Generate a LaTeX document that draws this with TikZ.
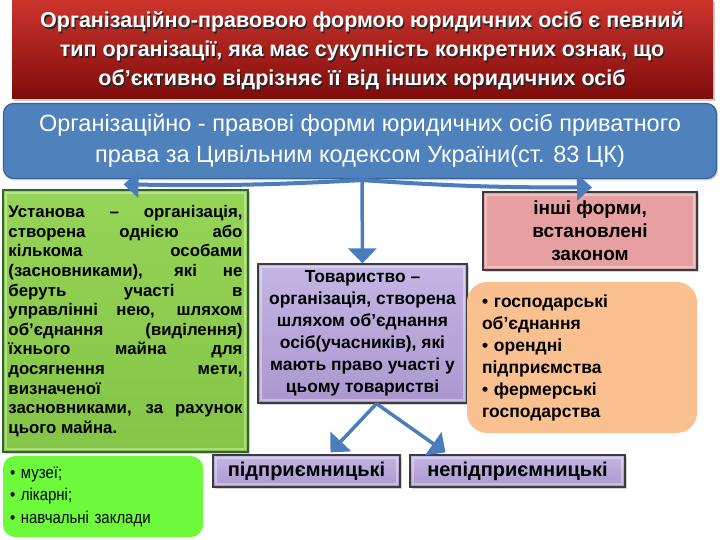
\documentclass[tikz,border=0pt]{standalone}
\usepackage{fontspec}
\setmainfont{Liberation Sans}
\newfontfamily\narrowfont[FakeStretch=0.88]{Liberation Sans}
\usetikzlibrary{arrows.meta,shadows}
\definecolor{redtop}{RGB}{204,52,44}
\definecolor{redbot}{RGB}{128,12,12}
\definecolor{bluefill}{RGB}{79,129,189}
\definecolor{blueedge}{RGB}{56,98,150}
\definecolor{greentop}{RGB}{150,212,88}
\definecolor{greenbot}{RGB}{132,196,70}
\definecolor{purptop}{RGB}{196,182,228}
\definecolor{purpbot}{RGB}{170,152,206}
\definecolor{pinkfill}{RGB}{230,160,162}
\definecolor{orangefill}{RGB}{250,192,144}
\definecolor{limefill}{RGB}{108,250,58}
\definecolor{arrowblue}{RGB}{74,124,190}
\definecolor{edgegray}{RGB}{60,60,60}
\begin{document}
\begin{tikzpicture}[x=1pt,y=-1pt,
  bevel/.style={path picture={\draw[white,opacity=.35,line width=2pt]
     ([shift={(3pt,-3pt)}]path picture bounding box.north west) rectangle
     ([shift={(-3pt,3pt)}]path picture bounding box.south east);}},
  sq/.style={draw=edgegray,line width=1.3pt,inner sep=0pt,bevel,
     drop shadow={shadow xshift=1.5pt,shadow yshift=-1.5pt,opacity=.35}},
  purpbox/.style={sq,top color=purptop,bottom color=purpbot},
  bigarrow/.style={draw=arrowblue,line width=4pt,-{Triangle[length=15pt,width=26pt]}},
  midarrow/.style={draw=arrowblue,line width=3.5pt,-{Triangle[length=15pt,width=28pt]}},
  titletext/.style={align=center,font=\bfseries\fontsize{21.5}{29}\selectfont,inner sep=0pt}
]
\useasboundingbox (0,0) rectangle (720,540);

% title box
\node[draw=none,top color=redtop,bottom color=redbot,minimum width=701pt,minimum height=99pt,
      drop shadow={shadow xshift=1.5pt,shadow yshift=-2pt,opacity=.4}] (red) at (362.5,49.5) {};
\node[titletext,text=black!85] (titlesh) at (363.3,52.3)
 {Організаційно-правовою формою юридичних осіб є певний\\тип організації, яка має сукупність конкретних ознак, що\\об'єктивно відрізняє її від інших юридичних осіб};
\node[titletext,text=white] (title) at (362,51)
 {Організаційно-правовою формою юридичних осіб є певний\\тип організації, яка має сукупність конкретних ознак, що\\об'єктивно відрізняє її від інших юридичних осіб};

% blue box
\node[draw=blueedge,line width=1.2pt,fill=bluefill,rounded corners=10pt,minimum width=713pt,
      minimum height=75pt,inner sep=0pt,text=white,align=center,
      font=\fontsize{23.5}{31}\selectfont,
      drop shadow={shadow xshift=1.5pt,shadow yshift=-2pt,opacity=.35}] (blue) at (360,141)
 {Організаційно - правові форми юридичних осіб приватного\\права за Цивільним кодексом України(ст. 83 ЦК)};

% Установа
\node[sq,draw=edgegray!80!green,top color=greentop,bottom color=greenbot,
      minimum width=245pt,minimum height=262pt,text width=234pt,align=justify,
      font=\bfseries\fontsize{16.8}{19.6}\selectfont] (ust) at (125.5,321)
 {Установа – організація,\linebreak створена однією або\linebreak кількома особами\linebreak (засновниками), які не\linebreak беруть участі в\linebreak управлінні нею, шляхом\linebreak об'єднання (виділення)\linebreak їхнього майна для\linebreak досягнення мети,\linebreak визначеної\newline засновниками, за рахунок\linebreak цього майна.};

% Товариство
\node[purpbox,minimum width=209pt,minimum height=139pt,align=center,
      font=\bfseries\fontsize{17.4}{22}\selectfont] (tov) at (362.5,333.5)
 {Товариство –\\організація, створена\\шляхом об'єднання\\осіб(учасників), які\\мають право участі у\\цьому товаристві};

% інші форми
\node[sq,fill=pinkfill,minimum width=214pt,minimum height=78pt,align=center,
      font=\bfseries\fontsize{19}{23}\selectfont] (inshi) at (590,231)
 {інші форми,\\встановлені\\законом};

% orange list
\node[fill=orangefill,rounded corners=20pt,minimum width=230pt,minimum height=151pt,
      inner sep=0pt,text width=200pt,align=left,
      font=\bfseries\fontsize{17.5}{22}\selectfont] (gosp) at (582,357.5)
 {• господарські\\об'єднання\\• орендні\\підприємства\\• фермерські\\господарства};

% lime list
\node[fill=limefill,rounded corners=12pt,minimum width=200pt,minimum height=81pt,
      inner sep=0pt,text width=186pt,align=left,
      font=\narrowfont\fontsize{17}{22.5}\selectfont] (muz) at (103,496.5)
 {• музеї;\\• лікарні;\\• навчальні заклади};

% bottom boxes
\node[purpbox,minimum width=187pt,minimum height=32pt,
      font=\bfseries\fontsize{20}{22}\selectfont] (pidp) at (306.5,471) {підприємницькі};
\node[purpbox,minimum width=215pt,minimum height=32pt,
      font=\bfseries\fontsize{20}{22}\selectfont] (nepidp) at (517.5,471) {непідприємницькі};

% arrows
\coordinate (o) at ([xshift=2pt,yshift=-1pt]blue.south);
\coordinate (tl) at ([xshift=-2pt,yshift=5pt]ust.north);
\coordinate (tr) at ([xshift=2pt,yshift=4pt]inshi.north);
\draw[bigarrow] (o) to[bend left=2] (tl);
\draw[bigarrow] (o) to[bend right=2] (tr);
\draw[midarrow] (o) -- (tov.north);
\coordinate (ob) at ([xshift=14pt]tov.south);
\coordinate (tb1) at ([xshift=24pt,yshift=2pt]pidp.north);
\coordinate (tb2) at ([xshift=-72pt,yshift=2pt]nepidp.north);
\draw[midarrow] (ob) -- (tb1);
\draw[midarrow] (ob) -- (tb2);
\end{tikzpicture}
\end{document}
